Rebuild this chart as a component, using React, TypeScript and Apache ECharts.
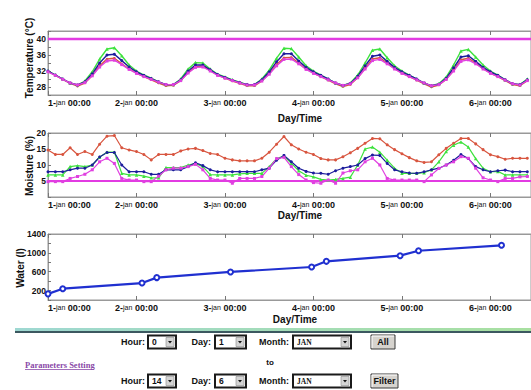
import React, { useEffect, useRef } from 'react';
import * as echarts from 'echarts';

// hours since 1-jan 00:00
const HOURS = [
  0, 2, 4, 6, 8, 10, 12, 14, 16, 18, 20, 22,
  24, 26, 28, 30, 32, 34, 36, 38, 40, 42, 44, 46,
  48, 50, 52, 54, 56, 58, 60, 62, 64, 66, 68, 70,
  72, 74, 76, 78, 80, 82, 84, 86, 88, 90, 92, 94,
  96, 98, 100, 102, 104, 106, 108, 110, 112, 114, 116, 118,
  120, 122, 124, 126, 128, 130,
];
const DAY_TICKS = ['1', '2', '3', '4', '5', '6'];
const MONTH_NAME = 'jan';

const TEMP_RED = [
  31.9, 30.9, 29.9, 28.9, 28.2, 29.0, 30.9, 33.3, 35.0, 35.2, 33.8, 32.5,
  31.5, 30.6, 29.8, 29.0, 28.3, 28.4, 29.6, 31.6, 33.1, 33.2, 32.1, 31.0,
  30.2, 29.5, 28.9, 28.3, 28.3, 29.5, 31.4, 33.6, 35.3, 35.4, 34.0, 32.5,
  31.5, 30.6, 29.7, 28.8, 28.1, 28.6, 30.3, 32.7, 35.0, 35.3, 34.0, 32.6,
  31.5, 30.6, 29.7, 28.8, 28.0, 28.5, 29.9, 32.2, 34.8, 35.2, 34.0, 32.6,
  31.5, 30.6, 29.6, 28.6, 28.3, 29.6,
];
const TEMP_GREEN = [
  32.0, 31.0, 30.0, 29.0, 28.5, 29.5, 31.8, 35.0, 37.5, 37.8, 35.8, 33.5,
  32.0, 31.0, 30.2, 29.3, 28.6, 28.6, 30.0, 32.5, 34.1, 34.0, 32.5, 31.2,
  30.5, 29.8, 29.2, 28.6, 28.6, 30.0, 32.2, 35.2, 37.7, 37.6, 35.5, 33.3,
  32.0, 31.0, 30.0, 29.0, 28.4, 29.0, 31.0, 34.0, 37.2, 37.5, 35.3, 33.3,
  32.0, 31.0, 30.0, 29.0, 28.3, 28.8, 30.5, 33.5, 37.0, 37.4, 35.5, 33.5,
  32.0, 31.0, 29.8, 28.8, 28.6, 30.0,
];
const TEMP_BLUE = [
  32.0, 31.0, 30.0, 29.0, 28.5, 29.3, 31.3, 34.0, 36.0, 36.2, 34.6, 33.0,
  31.8, 30.9, 30.1, 29.3, 28.6, 28.6, 29.8, 32.0, 33.5, 33.5, 32.3, 31.1,
  30.4, 29.7, 29.1, 28.6, 28.6, 29.8, 31.8, 34.3, 36.3, 36.3, 34.5, 32.9,
  31.8, 30.9, 30.0, 29.0, 28.4, 28.9, 30.7, 33.3, 35.7, 36.0, 34.4, 32.9,
  31.8, 30.9, 30.0, 29.0, 28.3, 28.7, 30.2, 32.8, 35.5, 35.8, 34.4, 32.9,
  31.8, 30.9, 29.8, 28.8, 28.6, 29.8,
];
const TEMP_MAGENTA = [
  31.8, 30.9, 29.9, 29.0, 28.5, 29.1, 30.8, 33.0, 34.5, 34.7, 33.6, 32.4,
  31.4, 30.6, 29.9, 29.2, 28.6, 28.6, 29.6, 31.5, 32.9, 33.0, 32.0, 30.9,
  30.2, 29.6, 29.0, 28.5, 28.5, 29.5, 31.2, 33.3, 34.9, 35.0, 33.8, 32.4,
  31.4, 30.6, 29.8, 29.0, 28.4, 28.8, 30.3, 32.5, 34.6, 34.9, 33.8, 32.5,
  31.4, 30.6, 29.8, 29.0, 28.3, 28.6, 29.9, 32.0, 34.4, 34.8, 33.8, 32.5,
  31.4, 30.6, 29.7, 28.8, 28.5, 29.6,
];
const TEMP_LIMIT = 40;

const MOIST_RED = [
  14.7, 13.3, 13.3, 15.4, 13.3, 14.2, 13.3, 16.5, 19.0, 19.2, 15.4, 14.7,
  14.2, 13.3, 11.6, 13.3, 13.3, 13.3, 14.4, 15.0, 15.2, 14.5, 13.6, 13.3,
  12.1, 11.6, 11.3, 11.3, 11.3, 12.1, 14.0, 16.5, 18.9, 16.3, 15.0, 14.0,
  13.3, 12.0, 11.6, 11.6, 12.6, 13.8, 15.2, 16.8, 18.3, 18.2, 16.3, 14.8,
  13.5, 12.3, 11.3, 10.8, 11.0, 13.2, 15.2, 16.8, 18.3, 18.3, 16.6, 14.8,
  13.2, 12.6, 11.8, 12.1, 12.1, 12.1,
];
const MOIST_GREEN = [
  6.9, 6.9, 6.9, 9.5, 9.8, 9.5, 10.0, 12.5, 14.0, 14.0, 7.4, 6.9,
  6.9, 6.5, 6.0, 6.0, 9.2, 9.2, 9.2, 10.0, 10.5, 9.5, 7.0, 6.9,
  6.9, 6.9, 7.2, 7.4, 7.4, 7.4, 9.5, 12.0, 12.8, 10.5, 8.2, 6.8,
  6.3, 5.5, 5.3, 5.5, 5.8, 6.2, 10.0, 15.0, 15.6, 14.0, 11.5, 9.0,
  7.4, 7.4, 7.4, 7.6, 8.5, 11.0, 14.2, 16.2, 17.2, 15.6, 12.0, 9.0,
  7.9, 8.0, 6.9, 6.9, 6.9, 6.9,
];
const MOIST_BLUE = [
  7.9, 7.9, 7.9, 8.5, 9.0, 9.0, 10.0, 12.5, 13.9, 13.9, 10.0, 7.9,
  7.9, 7.9, 7.1, 7.1, 8.5, 8.5, 8.5, 9.5, 10.7, 9.8, 8.5, 7.9,
  7.9, 7.9, 7.9, 7.9, 7.9, 8.5, 9.0, 11.5, 13.0, 11.0, 9.0, 8.0,
  7.5, 7.4, 7.1, 8.2, 9.0, 9.5, 10.0, 12.0, 13.1, 13.0, 10.5, 8.5,
  7.9, 7.5, 7.4, 7.9, 8.5, 9.0, 10.0, 11.5, 13.3, 12.0, 9.5, 8.5,
  7.9, 8.2, 8.4, 7.9, 7.9, 7.9,
];
const MOIST_MAGENTA = [
  4.8, 4.8, 4.8, 5.8, 6.4, 7.1, 8.5, 11.0, 12.1, 10.5, 5.8, 5.3,
  5.3, 4.8, 4.8, 6.5, 8.5, 9.0, 9.0, 9.5, 10.2, 8.5, 5.8, 5.3,
  5.3, 4.3, 5.8, 5.8, 5.8, 6.4, 9.0, 12.0, 12.4, 9.5, 7.0, 5.3,
  4.5, 4.3, 5.3, 4.3, 7.5, 8.2, 8.5, 11.0, 12.1, 10.0, 5.8, 5.3,
  5.3, 5.3, 5.3, 4.8, 6.9, 8.9, 10.0, 11.0, 12.6, 12.1, 9.0, 6.0,
  5.3, 4.8, 5.8, 5.8, 6.3, 6.4,
];
const MOIST_LIMIT = 5;

const WATER_HOURS = [0, 4, 25.5, 29.5, 49.5, 71.5, 75.5, 95.5, 100.5, 123];
const WATER_VALUES = [130, 240, 360, 475, 595, 700, 820, 940, 1045, 1160];

const TEMP_LABELS = [28, 32, 36, 40];
const MOIST_LABELS = [5, 10, 15, 20];
const WATER_LABELS = [200, 600, 1000, 1400];

const X_MAX = 131;

const C_GREEN = '#3ee23e';
const C_BLUE = '#1c1c9c';
const C_RED = '#d8553f';
const C_MAGENTA = '#e040e0';
const C_LIMIT = '#e23be2';

const pairs = (xs: number[], ys: number[]) => xs.map((x, i) => [x, ys[i]]);

function xAxes(gridIndex: number) {
  const common = {
    type: 'value' as const,
    gridIndex,
    min: 0,
    max: X_MAX,
    interval: 24,
    splitLine: { show: false },
    axisLine: { show: true, lineStyle: { color: '#999', width: 1 } },
    axisTick: { show: true, inside: true, length: 4, lineStyle: { color: '#777' } },
  };
  return [
    {
      ...common,
      position: 'bottom',
      axisLabel: {
        show: true,
        margin: 3,
        alignMinLabel: 'left',
        showMaxLabel: false,
        formatter: (v: number) => {
          if (v % 24 !== 0) return '';
          const d = DAY_TICKS[v / 24];
          return d ? `{d|${d}-}{m|${MONTH_NAME}}{t| 00:00}` : '';
        },
        rich: {
          d: { fontFamily: 'Arial', fontWeight: 'bold', fontSize: 9, color: '#111' },
          m: { fontFamily: 'Arial', fontSize: 7, color: '#111' },
          t: { fontFamily: 'Arial', fontWeight: 'bold', fontSize: 9, color: '#111' },
        },
      },
    },
    { ...common, position: 'top', axisLabel: { show: false } },
  ];
}

function yAxis(gridIndex: number, min: number, max: number, interval: number, labels: number[]) {
  return {
    type: 'value' as const,
    gridIndex,
    min,
    max,
    interval,
    splitLine: { show: false },
    axisLine: { show: true, lineStyle: { color: '#999', width: 1 } },
    axisTick: { show: true, inside: true, length: 3, lineStyle: { color: '#777' } },
    axisLabel: {
      margin: 2,
      fontFamily: 'Arial',
      fontWeight: 'bold',
      fontSize: 8.5,
      color: '#111',
      formatter: (v: number) => (labels.includes(v) ? String(v) : ''),
    },
  };
}

function lineSeries(name: string, x: number, y: number, data: number[], color: string, symbol: string, size: number, width = 1.4) {
  return {
    name,
    type: 'line',
    xAxisIndex: x,
    yAxisIndex: y,
    data: pairs(HOURS, data),
    symbol,
    symbolSize: size,
    showSymbol: true,
    itemStyle: { color },
    lineStyle: { color, width },
  };
}

function limitSeries(x: number, y: number, value: number, width: number) {
  return {
    type: 'line',
    xAxisIndex: x,
    yAxisIndex: y,
    data: [[0, value], [X_MAX, value]],
    symbol: 'none',
    lineStyle: { color: C_LIMIT, width },
  };
}

const LABEL_FONT = 'bold 9px Arial';

function text(x: number, y: number, t: string, font = LABEL_FONT, align = 'left', fill = '#111', extra: any = {}) {
  return {
    type: 'text',
    x,
    y,
    ...extra,
    style: { text: t, font, fill, align, verticalAlign: 'middle' },
  };
}

function selectBox(x: number, cy: number, w: number, value: string, serif = false) {
  const h = 13;
  const y = cy - h / 2;
  const bx = x + w - 10;
  return [
    { type: 'rect', shape: { x, y, width: w, height: h }, style: { fill: '#fff', stroke: '#1a1a1a', lineWidth: 2 } },
    { type: 'rect', shape: { x: bx, y: y + 2, width: 8, height: h - 4 }, style: { fill: '#d4d4d4', stroke: '#8a8a8a', lineWidth: 0.6 } },
    { type: 'polygon', shape: { points: [[bx + 2, cy - 1], [bx + 6, cy - 1], [bx + 4, cy + 1.5]] }, style: { fill: '#111' } },
    text(x + 4, cy, value, serif ? 'bold 7.5px "Liberation Serif"' : 'bold 8.5px Arial', 'left', '#111'),
  ];
}

function button(x: number, cy: number, w: number, label: string) {
  const h = 14;
  const y = cy - h / 2;
  return [
    { type: 'rect', shape: { x, y, width: w, height: h }, style: { fill: '#d6d3ce', stroke: '#3a3a3a', lineWidth: 1 } },
    { type: 'polyline', shape: { points: [[x + 1, y + h - 1], [x + 1, y + 1], [x + w - 1, y + 1]] }, style: { stroke: '#fff', lineWidth: 1, fill: null } },
    text(x + w / 2, cy, label, 'bold 9px Arial', 'center', '#111'),
  ];
}

function formRow(cy: number, hour: string, day: string, month: string, btn: string, btnW: number) {
  return [
    text(145, cy, 'Hour:', LABEL_FONT, 'right'),
    ...selectBox(148, cy, 28, hour),
    text(211, cy, 'Day:', LABEL_FONT, 'right'),
    ...selectBox(215, cy, 31, day),
    text(289, cy, 'Month:', LABEL_FONT, 'right'),
    ...selectBox(293, cy, 58, month, true),
    ...button(371, cy, btnW, btn),
  ];
}

export default function App() {
  const ref = useRef<HTMLDivElement>(null);
  useEffect(() => {
    if (!ref.current) return;
    const chart = echarts.init(ref.current, undefined, { renderer: 'svg' });
    const gridCommon = { left: 48, width: 485, show: true, borderColor: '#999', borderWidth: 1, backgroundColor: 'transparent' };
    const nameFont = 'bold 10px Arial';
    chart.setOption({
      animation: false,
      backgroundColor: '#fff',
      grid: [
        { ...gridCommon, top: 31, height: 64 },
        { ...gridCommon, top: 133, height: 64 },
        { ...gridCommon, top: 234, height: 66 },
      ],
      xAxis: [...xAxes(0), ...xAxes(1), ...xAxes(2)],
      yAxis: [
        yAxis(0, 26, 42, 2, TEMP_LABELS),
        yAxis(1, 0, 20, 5, MOIST_LABELS),
        yAxis(2, 0, 1400, 200, WATER_LABELS),
      ],
      series: [
        lineSeries('T red', 0, 0, TEMP_RED, C_RED, 'circle', 2.5),
        lineSeries('T green', 0, 0, TEMP_GREEN, C_GREEN, 'triangle', 3.5),
        lineSeries('T blue', 0, 0, TEMP_BLUE, C_BLUE, 'circle', 3),
        lineSeries('T magenta', 0, 0, TEMP_MAGENTA, C_MAGENTA, 'rect', 3),
        limitSeries(0, 0, TEMP_LIMIT, 2.5),
        lineSeries('M red', 2, 1, MOIST_RED, C_RED, 'circle', 3, 1.2),
        lineSeries('M green', 2, 1, MOIST_GREEN, C_GREEN, 'triangle', 3.5, 1.2),
        lineSeries('M blue', 2, 1, MOIST_BLUE, C_BLUE, 'circle', 3, 1.2),
        lineSeries('M magenta', 2, 1, MOIST_MAGENTA, C_MAGENTA, 'rect', 3, 1.2),
        limitSeries(2, 1, MOIST_LIMIT, 2),
        {
          name: 'Water',
          type: 'line',
          xAxisIndex: 4,
          yAxisIndex: 2,
          data: pairs(WATER_HOURS, WATER_VALUES),
          symbol: 'emptyCircle',
          symbolSize: 5,
          itemStyle: { color: '#2030d0', borderWidth: 1.3 },
          lineStyle: { color: '#2030d0', width: 2.2 },
        },
      ],
      graphic: [
        text(29, 58, 'Temperature (°C)', nameFont, 'center', '#111', { rotation: Math.PI / 2 }),
        text(29, 166, 'Moisture (%)', nameFont, 'center', '#111', { rotation: Math.PI / 2 }),
        text(20, 268, 'Water (l)', nameFont, 'center', '#111', { rotation: Math.PI / 2 }),
        text(300, 118, 'Day/Time', nameFont, 'center'),
        text(300, 215, 'Day/Time', nameFont, 'center'),
        text(295, 319, 'Day/Time', nameFont, 'center'),
        {
          type: 'rect',
          shape: { x: 15, y: 328, width: 516, height: 3 },
          style: {
            fill: new echarts.graphic.LinearGradient(0, 0, 1, 0, [
              { offset: 0, color: '#9ed8d2' },
              { offset: 1, color: '#a8e0a0' },
            ]),
          },
        },
        { type: 'rect', shape: { x: 15, y: 331, width: 516, height: 2 }, style: { fill: '#3c5860' } },
        ...formRow(342, '0', '1', 'JAN', 'All', 24),
        text(270, 362, 'to', 'bold 8px Arial', 'center'),
        text(25, 365, 'Parameters Setting', 'bold 8.5px "Liberation Serif"', 'left', '#8a4aa8'),
        { type: 'line', shape: { x1: 25, y1: 369.5, x2: 94, y2: 369.5 }, style: { stroke: '#8a4aa8', lineWidth: 0.8 } },
        ...formRow(381, '14', '6', 'JAN', 'Filter', 27),
      ],
    });
    return () => chart.dispose();
  }, []);
  return <div ref={ref} style={{ position: 'absolute', left: 0, top: 0, width: 531, height: 390 }} />;
}
